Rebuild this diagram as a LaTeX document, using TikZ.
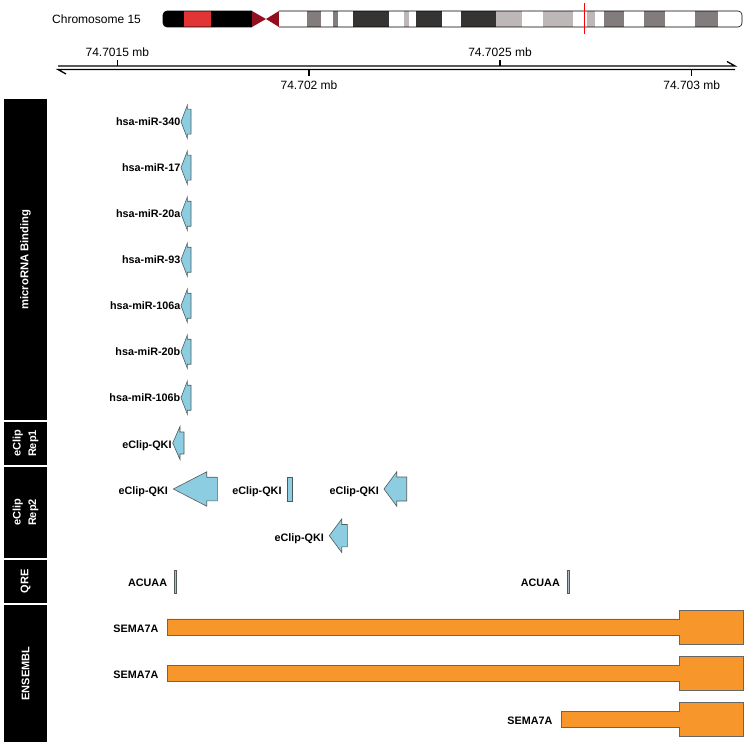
\documentclass[tikz,border=0pt]{standalone}
\usepackage{fontspec}
\setmainfont{Liberation Sans}
\usetikzlibrary{positioning}
\definecolor{bandDark}{RGB}{54,51,51}
\definecolor{bandMid}{RGB}{130,124,124}
\definecolor{bandLight}{RGB}{189,183,183}
\definecolor{bandRed}{RGB}{226,52,52}
\definecolor{cenRed}{RGB}{145,15,30}
\definecolor{arrBlue}{RGB}{140,205,225}
\definecolor{arrLine}{RGB}{80,90,90}
\definecolor{geneOrange}{RGB}{247,150,42}
\definecolor{qreFill}{RGB}{176,188,192}

% block arrow pointing left: tip x, centre y, head base x, end x, head half, shaft half
\newcommand{\blockarr}[6]{%
  \draw[arr] (#1,#2) -- (#3,#2-#5) -- (#3,#2-#6) -- (#4,#2-#6) -- (#4,#2+#6)
    -- (#3,#2+#6) -- (#3,#2+#5) -- cycle;}
% transcript bar: left x, centre y
\newcommand{\genebar}[2]{%
  \draw[gene] (#1,#2-8.2) -- (679,#2-8.2) -- (679,#2-17) -- (743,#2-17) -- (743,#2+17)
    -- (679,#2+17) -- (679,#2+8.2) -- (#1,#2+8.2) -- cycle;}

\begin{document}
\begin{tikzpicture}[x=1pt,y=-1pt,
 side/.style={fill=black,text=white,rotate=90,minimum height=43pt,inner sep=0pt,align=center,
   font=\bfseries\fontsize{11}{15.5}\selectfont},
 lbl/.style={anchor=base east,inner sep=0pt,font=\bfseries\fontsize{10.8}{13}\selectfont},
 axl/.style={anchor=base,inner sep=0pt,font=\fontsize{12}{14}\selectfont},
 arr/.style={draw=arrLine,fill=arrBlue,line width=0.6pt},
 gene/.style={draw=gray!80!black,fill=geneOrange,line width=0.6pt},
 qre/.style={draw=arrLine,fill=qreFill,line width=0.5pt},
 axis/.style={line width=1.3pt},
 tick/.style={line width=1.2pt}]
\useasboundingbox (0,0) rectangle (749,746);

% ideogram
\node[anchor=base west,inner sep=0pt,font=\fontsize{12}{14}\selectfont] (chr) at (52,23.5) {Chromosome 15};
\begin{scope}
\clip[rounded corners=4pt] (163,11) rectangle (262,27);
\fill[black] (163,11) rectangle (252,27);
\fill[bandRed] (184,11) rectangle (211,27);
\end{scope}
\draw[line width=0.6pt,rounded corners=4pt] (252,11) -- (163,11) -- (163,27) -- (252,27);
\fill[cenRed] (252,11) -- (266,19) -- (252,27) -- cycle;
\fill[cenRed] (279,11) -- (266,19) -- (279,27) -- cycle;
\begin{scope}
\clip[rounded corners=4pt] (270,11) rectangle (742,27);
\fill[white] (279,11) rectangle (742,27);
\foreach \a/\b/\c in {307/321/bandMid,333/338/bandMid,353/389/bandDark,404/409/bandLight,
  416/442/bandDark,461/496/bandDark,496/522/bandLight,543/573/bandLight,587/595/bandLight,
  604/624/bandMid,644/665/bandMid,695/718/bandMid}
  \fill[\c] (\a,11) rectangle (\b,27);
\end{scope}
\draw[line width=0.6pt,rounded corners=4pt] (279,11) -- (742,11) -- (742,27) -- (279,27);
\draw[red,line width=0.8pt] (584,3) -- (584,34);

% coordinate axis
\coordinate (axL) at (58,66);
\coordinate (axR) at (735,66);
\draw[axis] (axL) -- (axR) -- ++(-8,-4.5);
\draw[axis] (735,69.5) -- (58,69.5) -- ++(8,4.5);
\foreach \x/\t [count=\i] in {117.3/74.7015,500/74.7025}{
  \draw[tick] (\x,60) -- (\x,66);
  \node[axl] (up\i) at (\x,56.5) {\t\ mb};
}
\foreach \x/\t [count=\i] in {309/74.702,691.7/74.703}{
  \draw[tick] (\x,69.5) -- (\x,76.5);
  \node[axl] (dn\i) at (\x,90) {\t\ mb};
}

% track titles
\node[side,minimum width=321pt,font=\bfseries\fontsize{11.3}{15}\selectfont] (smir) at (25.5,259.5) {microRNA Binding};
\node[side,minimum width=43pt] (srep1) at (25.5,443.5) {eClip\\Rep1};
\node[side,minimum width=91pt] (srep2) at (25.5,512.5) {eClip\\Rep2};
\node[side,minimum width=43pt] (sqre) at (25.5,581.5) {QRE};
\node[side,minimum width=137pt] (sens) at (25.5,673.5) {ENSEMBL};

% microRNA binding sites
\foreach \m [count=\i from 0] in {340,17,20a,93,106a,20b,106b}{
  \pgfmathsetmacro{\yc}{121.7+46*\i}
  \node[lbl] (mir\m) at (180.5,\yc+4) {hsa-miR-\m};
  \blockarr{181}{\yc}{187.3}{191}{16.5}{12.5}
}

% eCLIP peaks
\node[lbl] (rep1a) at (171.7,448) {eClip-QKI};
\blockarr{172.7}{443}{180}{184}{16.5}{11}
\node[lbl] (rep2a) at (168,494) {eClip-QKI};
\blockarr{173.3}{489}{206.7}{217.3}{17.2}{11.8}
\node[lbl] (rep2b) at (281.7,494) {eClip-QKI};
\draw[arr] (287.3,477.7) rectangle (292.7,501);
\node[lbl] (rep2c) at (379,494) {eClip-QKI};
\blockarr{384}{489}{396.7}{406.7}{17.2}{12}
\node[lbl] (rep2d) at (324,541) {eClip-QKI};
\blockarr{329.3}{535.7}{341.7}{347.3}{16.7}{11.2}

% QRE motifs
\node[lbl] (qre1) at (167.3,586) {ACUAA};
\draw[qre] (174.3,570) rectangle (176.7,593.3);
\node[lbl] (qre2) at (560,586) {ACUAA};
\draw[qre] (566.8,570) rectangle (569.2,593.3);

% transcripts
\node[lbl] (sema1) at (158.6,632) {SEMA7A};
\genebar{167}{627}
\node[lbl] (sema2) at (158.6,678) {SEMA7A};
\genebar{167}{673.3}
\node[lbl] (sema3) at (552.6,724.5) {SEMA7A};
\genebar{561}{719.5}
\end{tikzpicture}
\end{document}
